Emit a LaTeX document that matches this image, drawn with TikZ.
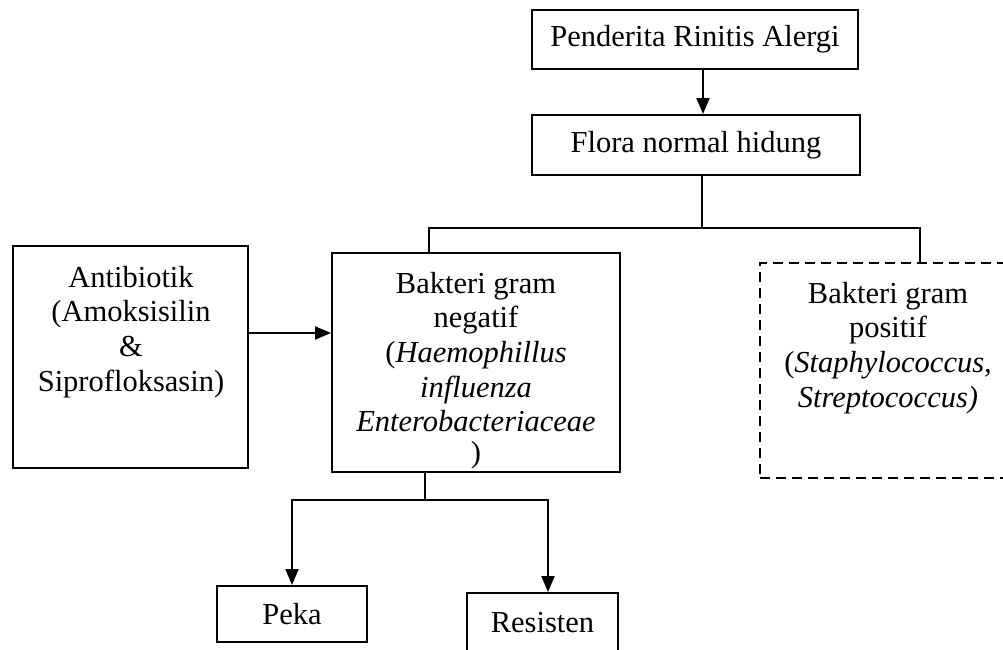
\documentclass[tikz,border=0pt]{standalone}
\usepackage{fontspec}
\setmainfont{Liberation Serif}
\usetikzlibrary{arrows.meta}
\begin{document}
\begin{tikzpicture}[x=1pt,y=-1pt,
  every node/.style={font=\fontsize{30.5}{34.6}\selectfont},
  box/.style={draw, line width=2pt, inner sep=0pt},
  dbox/.style={box, dash pattern=on 10pt off 6pt},
  txt/.style={align=center, inner sep=0pt, anchor=north},
  conn/.style={line width=2pt},
  arr/.style={conn, -{Triangle[length=16pt,width=13pt]}}]
\useasboundingbox (0,0) rectangle (1003,649);
% boxes
\node[box, minimum width=326pt, minimum height=59pt] (box1) at (695,39.5) {Penderita Rinitis Alergi};
\node[box, minimum width=328pt, minimum height=60pt] (box2) at (696,145) {Flora normal hidung};
\node[box, minimum width=235pt, minimum height=222pt] (anti) at (130.5,356.5) {};
\node[box, minimum width=288pt, minimum height=219pt] (neg) at (476,362.5) {};
\node[dbox, minimum width=256pt, minimum height=215pt] (pos) at (888,370.5) {};
\node[box, minimum width=150pt, minimum height=56pt] (peka) at (292,614) {Peka};
\node[box, minimum width=151pt, minimum height=59pt] (res) at (542.5,622.5) {Resisten};
% texts
\node[txt] (antiT) at (131,266) {Antibiotik\\(Amoksisilin\\\&\\Siprofloksasin)};
\node[txt] (negT) at (476,272) {Bakteri gram\\negatif\\(\textit{Haemophillus}\\\textit{influenza}\\\textit{Enterobacteriaceae}\\[-4pt])};
\node[txt] (posT) at (888,282) {Bakteri gram\\positif\\(\textit{Staphylococcus,}\\\textit{Streptococcus)}};
% helper coordinates
\coordinate (a1) at (703,0);
\coordinate (br) at (702,228);
\coordinate (nl) at (429,0);
\coordinate (pr) at (920,0);
\coordinate (bb) at (425,500);
\coordinate (rr) at (548,0);
\coordinate (ay) at (0,333);
% connectors
\draw[arr] (box1.south -| a1) -- (box2.north -| a1);
\draw[conn] (box2.south -| br) -- (br);
\draw[conn] (neg.north -| nl) |- (br) -| (pos.north -| pr);
\draw[arr] (anti.east |- ay) -- (neg.west |- ay);
\draw[conn] (neg.south -| bb) -- (bb);
\draw[arr] (bb) -| (peka.north);
\draw[arr] (bb) -| (res.north -| rr);
\end{tikzpicture}
\end{document}
